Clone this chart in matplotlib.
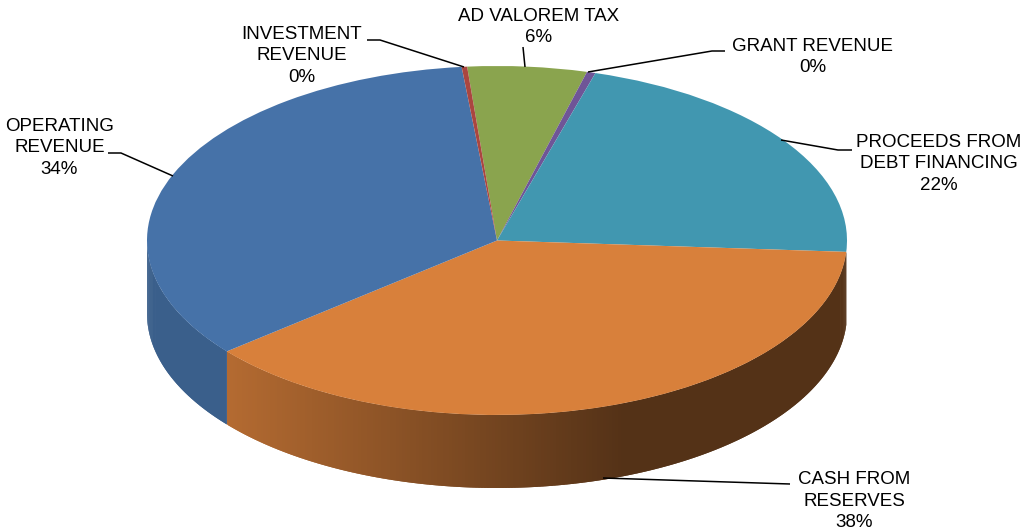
import numpy as np
import matplotlib
matplotlib.use('Agg')
import matplotlib.pyplot as plt

plt.rcParams['font.family'] = ['Liberation Sans', 'DejaVu Sans']

# slices, clockwise from the ad valorem one
names = ['AD VALOREM TAX', 'GRANT REVENUE', 'PROCEEDS FROM\nDEBT FINANCING',
         'CASH FROM\nRESERVES', 'OPERATING\nREVENUE', 'INVESTMENT\nREVENUE']
values = [5.5, 0.4, 21.5, 38.0, 34.35, 0.25]
shown = ['6%', '0%', '22%', '38%', '34%', '0%']
colors = ['#8AA44E', '#6F5597', '#4197B0', '#D8803B', '#4672A8', '#AA4640']
start = 94.9

W, H = 1021, 531
cx, cy, rx, ry = 497, 240.5, 350, 174.5
depth = 73 / ry

def px(x, y):
    # picture pixels to data units
    return (x - cx) / rx, (cy - y) / ry

def wall_color(slice_color, x):
    # side gets darker going right, flat after x=620
    base = np.array(matplotlib.colors.to_rgb(slice_color))
    t = np.clip((x - 228) / (620 - 228), 0, 1)
    return base * (0.83 - 0.44 * t)

fig = plt.figure(figsize=(W / 100, H / 100), dpi=100)
ax = fig.add_axes([0, 0, 1, 1])

# side wall, only the front half of the disc shows
edges = start - np.cumsum([0] + values) * 3.6
for i, c in enumerate(colors):
    a0, a1 = edges[i], edges[i + 1]
    # slices that barely reach the front show no wall
    if a1 > -10:
        continue
    angles = np.append(np.arange(a0, a1, -0.5), a1)
    for j in range(len(angles) - 1):
        # each strip runs back over the one before, which hides the seams
        t = np.radians([angles[max(j - 1, 0)], angles[j + 1]])
        if np.sin(np.radians(angles[j:j + 2])).mean() >= 0:
            continue
        xs = np.cos(t)
        ys = np.sin(t)
        col = wall_color(c, cx + rx * np.cos(np.radians(angles[j:j + 2])).mean())
        ax.fill([xs[0], xs[1], xs[1], xs[0]],
                [ys[0], ys[1], ys[1] - depth, ys[0] - depth],
                color=col, lw=0, zorder=1)

wedges, _ = ax.pie(values, colors=colors, startangle=start, counterclock=False,
                   radius=1, wedgeprops={'lw': 0, 'zorder': 2})
ax.set_aspect('auto')
ax.set_xlim(-cx / rx, (W - cx) / rx)
ax.set_ylim((cy - H) / ry, cy / ry)
ax.axis('off')

# leader lines and labels, pixel positions from the picture
leaders = [
    [(523, 47), (525, 67)],
    [(725, 51), (712, 51), (588, 72)],
    [(852, 150), (838, 150), (781, 140)],
    [(790, 484), (603, 478)],
    [(108, 153), (121, 153), (173, 176)],
    [(367, 40), (380, 40), (464, 67)],
]
label_pos = [(539, 27), (813, 57), (939, 164), (854, 501), (59.5, 148), (302, 56)]

for line, pos, name, pct in zip(leaders, label_pos, names, shown):
    pts = [px(*p) for p in line]
    ax.plot([p[0] for p in pts], [p[1] for p in pts], color='black', lw=1.1,
            zorder=3, solid_capstyle='butt')
    lx, ly = px(*pos)
    ax.text(lx, ly, name + '\n' + pct, ha='center', va='center', fontsize=13.5,
            color='black', linespacing=1.32, clip_on=False, zorder=4)

fig.savefig('out.png', dpi=100, facecolor='white')
